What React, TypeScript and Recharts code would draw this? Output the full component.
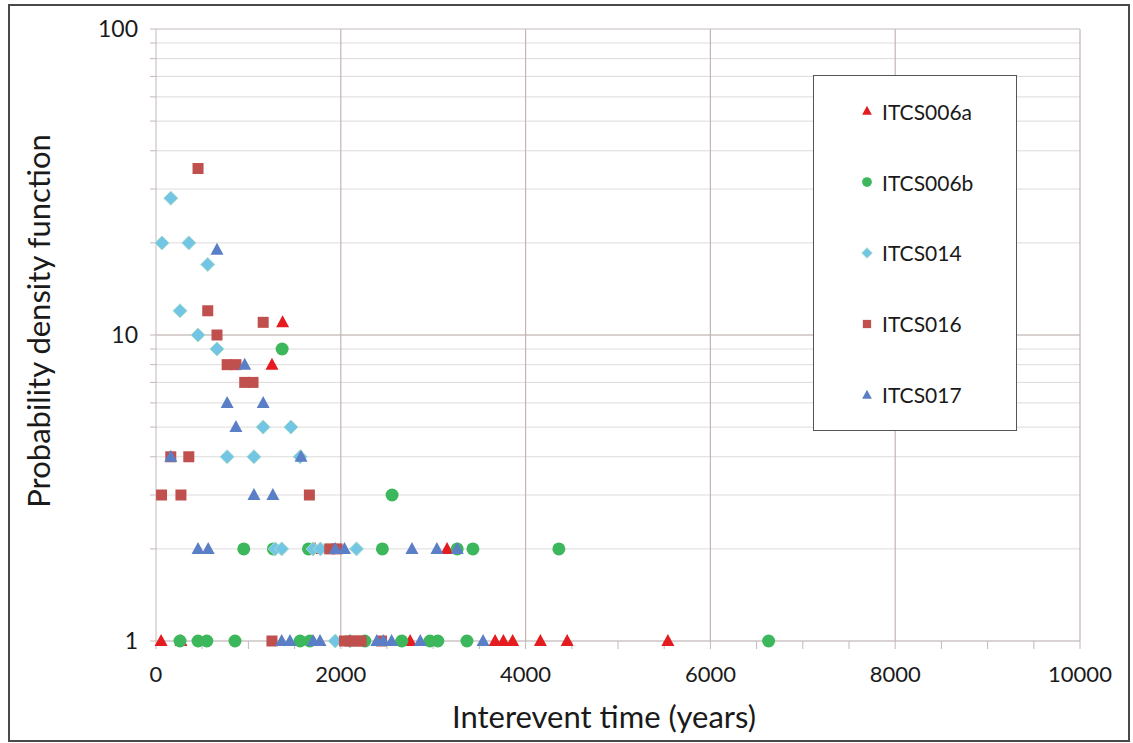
import React from 'react';
import {
  ScatterChart,
  Scatter,
  XAxis,
  YAxis,
  CartesianGrid,
  Legend,
  ReferenceLine
} from 'recharts';

const FONT = 'Lato, "Open Sans", sans-serif';

// axis ticks
const xMajorTicks = [0, 2000, 4000, 6000, 8000, 10000];
const xAllTicks = [
  0, 500, 1000, 1500, 2000, 2500, 3000, 3500, 4000, 4500, 5000,
  5500, 6000, 6500, 7000, 7500, 8000, 8500, 9000, 9500, 10000
];
const yMajorTicks = [1, 10, 100];
const yAllTicks = [1, 2, 3, 4, 5, 6, 7, 8, 9, 10, 20, 30, 40, 50, 60, 70, 80, 90, 100];

// [interevent time, pdf] pairs
const itcs006a: [number, number][] = [
  [55, 1], [270, 1], [1720, 2], [1255, 8], [1370, 11], [3150, 2], [2750, 1],
  [3670, 1], [3760, 1], [3860, 1], [4160, 1], [4450, 1], [5540, 1]
];
const itcs006b: [number, number][] = [
  [1365, 9], [2555, 3], [950, 2], [1270, 2], [1650, 2], [2450, 2], [3260, 2],
  [3430, 2], [4360, 2], [260, 1], [455, 1], [550, 1], [855, 1], [1560, 1],
  [1665, 1], [2260, 1], [2660, 1], [2965, 1], [3050, 1], [3365, 1], [6630, 1]
];
const itcs014: [number, number][] = [
  [160, 28], [65, 20], [355, 20], [560, 17], [260, 12], [455, 10], [660, 9],
  [1160, 5], [1460, 5], [770, 4], [1060, 4], [1560, 4], [1290, 2], [1360, 2],
  [1700, 2], [1780, 2], [2170, 2], [1940, 1], [2100, 1]
];
const itcs016: [number, number][] = [
  [455, 35], [560, 12], [1160, 11], [660, 10], [770, 8], [865, 8], [960, 7],
  [1050, 7], [160, 4], [355, 4], [60, 3], [270, 3], [1660, 3], [1880, 2],
  [1960, 2], [1255, 1], [2040, 1], [2100, 1], [2160, 1], [2220, 1], [2440, 1]
];
const itcs017: [number, number][] = [
  [660, 19], [960, 8], [770, 6], [1160, 6], [865, 5], [160, 4], [1570, 4],
  [1060, 3], [1265, 3], [455, 2], [565, 2], [1940, 2], [2040, 2], [2770, 2],
  [3040, 2], [3260, 2], [1360, 1], [1450, 1], [1700, 1], [1775, 1], [2390, 1],
  [2460, 1], [2550, 1], [2860, 1], [3540, 1]
];

type Kind = 'triangle' | 'circle' | 'diamond' | 'square';

const series: { name: string; color: string; kind: Kind; points: [number, number][] }[] = [
  { name: 'ITCS006a', color: '#e41b1f', kind: 'triangle', points: itcs006a },
  { name: 'ITCS006b', color: '#3db75c', kind: 'circle', points: itcs006b },
  { name: 'ITCS014', color: '#72c5e4', kind: 'diamond', points: itcs014 },
  { name: 'ITCS016', color: '#c0504d', kind: 'square', points: itcs016 },
  { name: 'ITCS017', color: '#5b7fc6', kind: 'triangle', points: itcs017 }
];

const Marker = ({ kind, color, cx, cy, s = 1 }: { kind: Kind; color: string; cx: number; cy: number; s?: number }) => {
  if (kind === 'triangle') {
    return <path d={`M${cx},${cy - 7 * s}L${cx + 6.5 * s},${cy + 5 * s}L${cx - 6.5 * s},${cy + 5 * s}Z`} fill={color} />;
  }
  if (kind === 'circle') {
    return <circle cx={cx} cy={cy} r={6.5 * s} fill={color} />;
  }
  if (kind === 'diamond') {
    return (
      <path
        d={`M${cx},${cy - 7 * s}L${cx + 7 * s},${cy}L${cx},${cy + 7 * s}L${cx - 7 * s},${cy}Z`}
        fill={color}
        stroke="#a6dcc8"
        strokeWidth={1}
      />
    );
  }
  return <rect x={cx - 5.5 * s} y={cy - 5.5 * s} width={11 * s} height={11 * s} fill={color} />;
};

const XTick = (props: any) => {
  const { x, y, payload } = props;
  if (!xMajorTicks.includes(payload.value)) return null;
  return (
    <text x={x} y={y + 31} textAnchor="middle" fontSize={22} fill="#1a1a1a" fontFamily={FONT}>
      {payload.value}
    </text>
  );
};

const YTick = (props: any) => {
  const { x, y, payload } = props;
  if (!yMajorTicks.includes(payload.value)) return null;
  return (
    <text x={x} y={y + 8} textAnchor="end" fontSize={23} fill="#1a1a1a" fontFamily={FONT}>
      {payload.value}
    </text>
  );
};

const XLabel = ({ viewBox }: any) => (
  <text
    x={viewBox.x + viewBox.width / 2 - 14}
    y={viewBox.y + 75}
    textAnchor="middle"
    dominantBaseline="central"
    fontSize={31}
    fill="#1a1a1a"
    fontFamily={FONT}
  >
    Interevent time (years)
  </text>
);

const YLabel = ({ viewBox }: any) => {
  const cx = viewBox.x + 38;
  const cy = viewBox.y + viewBox.height / 2 - 14;
  return (
    <text
      x={cx}
      y={cy}
      transform={`rotate(-90 ${cx} ${cy})`}
      textAnchor="middle"
      dominantBaseline="central"
      fontSize={31}
      fill="#1a1a1a"
      fontFamily={FONT}
    >
      Probability density function
    </text>
  );
};

const LegendBox = () => (
  <div
    style={{
      width: 204,
      height: 356,
      border: '1.5px solid #555',
      boxSizing: 'border-box',
      background: '#fff',
      display: 'flex',
      flexDirection: 'column',
      justifyContent: 'space-around',
      fontFamily: FONT,
      fontSize: 21,
      color: '#1a1a1a'
    }}
  >
    {series.map((s) => (
      <div key={s.name} style={{ display: 'flex', alignItems: 'center', height: 24 }}>
        <svg width={68} height={24} style={{ display: 'block' }}>
          <Marker kind={s.kind} color={s.color} cx={53} cy={12} s={0.75} />
        </svg>
        <span>{s.name}</span>
      </div>
    ))}
  </div>
);

export default function App() {
  return (
    <div style={{ position: 'absolute', left: 0, top: 0, width: 1133, height: 743, background: '#fff' }}>
      <div
        style={{
          position: 'absolute',
          left: 8,
          top: 4,
          width: 1122,
          height: 738,
          border: '2px solid #4a4a4a',
          boxSizing: 'border-box'
        }}
      />
      <ScatterChart width={1133} height={743} margin={{ top: 29, right: 53, bottom: 0, left: 0 }}>
        <CartesianGrid vertical={false} stroke="#dedada" />
        <XAxis
          type="number"
          dataKey="x"
          domain={[0, 10000]}
          ticks={xAllTicks}
          interval={0}
          height={102}
          tickSize={8}
          stroke="#c4b8b8"
          tick={<XTick />}
          label={<XLabel />}
        />
        <YAxis
          type="number"
          dataKey="y"
          scale="log"
          domain={[1, 100]}
          ticks={yAllTicks}
          interval={0}
          width={156}
          tickSize={6}
          tickMargin={12}
          stroke="#c4b8b8"
          tick={<YTick />}
          label={<YLabel />}
        />
        {xMajorTicks.slice(1).map((v) => (
          <ReferenceLine key={`vx${v}`} x={v} stroke="#c4b4b4" strokeWidth={1.2} />
        ))}
        <ReferenceLine y={10} stroke="#c4b4b4" strokeWidth={1.2} />
        <ReferenceLine y={100} stroke="#d4cccc" />
        {series.map((s) => (
          <Scatter
            key={s.name}
            name={s.name}
            data={s.points.map(([x, y]) => ({ x, y }))}
            fill={s.color}
            isAnimationActive={false}
            shape={(p: any) => <Marker kind={s.kind} color={s.color} cx={p.cx} cy={p.cy} />}
          />
        ))}
        <Legend
          layout="vertical"
          align="center"
          verticalAlign="middle"
          wrapperStyle={{ left: 813, top: 75, width: 204, height: 356 }}
          content={<LegendBox />}
        />
      </ScatterChart>
    </div>
  );
}
